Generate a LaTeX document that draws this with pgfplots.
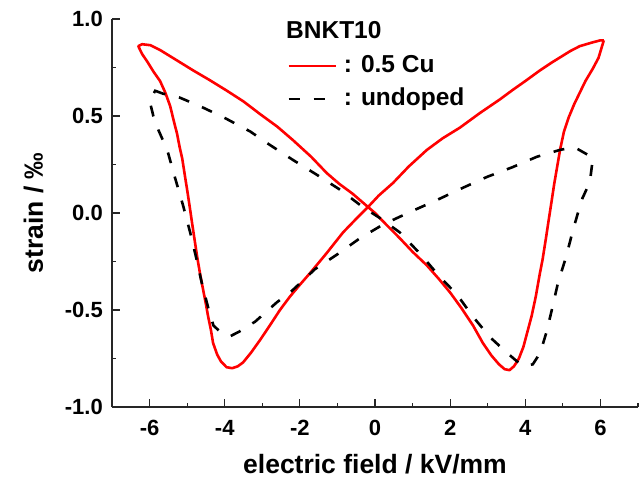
\documentclass[border=0pt]{standalone}
\usepackage{fontspec}
\setmainfont{Liberation Sans}
\usepackage{pgfplots}
\pgfplotsset{compat=1.18}

\newcommand\tickfont{\fontsize{22bp}{26bp}\selectfont\bfseries}
\newcommand\labelfont{\fontsize{26.5bp}{30bp}\selectfont\bfseries}
\newcommand\legfont{\fontsize{24.5bp}{28bp}\selectfont\bfseries}

% strain loop, 0.5 Cu doped BNKT10
\pgfplotstableread{
E S
6.09 0.89
5.95 0.80
5.80 0.745
5.60 0.68
5.45 0.62
5.30 0.56
5.15 0.49
5.03 0.42
4.93 0.33
4.85 0.24
4.77 0.15
4.70 0.06
4.62 -0.04
4.55 -0.13
4.46 -0.24
4.38 -0.32
4.28 -0.43
4.17 -0.53
4.06 -0.61
3.95 -0.69
3.83 -0.75
3.70 -0.79
3.58 -0.81
3.45 -0.805
3.30 -0.78
3.10 -0.735
2.87 -0.67
2.61 -0.58
2.30 -0.49
2.00 -0.41
1.70 -0.34
1.38 -0.27
1.00 -0.20
0.66 -0.13
0.30 -0.06
0.00 0.00
-0.30 0.05
-0.60 0.10
-0.95 0.15
-1.28 0.205
-1.70 0.29
-2.18 0.375
-2.60 0.445
-3.06 0.51
-3.50 0.575
-3.94 0.63
-4.40 0.685
-4.84 0.735
-5.30 0.79
-5.72 0.84
-5.98 0.865
-6.20 0.87
-6.30 0.86
-6.20 0.82
-6.06 0.78
-5.90 0.73
-5.72 0.68
-5.58 0.62
-5.45 0.55
-5.35 0.47
-5.27 0.41
-5.20 0.34
-5.13 0.28
-5.05 0.18
-5.00 0.12
-4.93 0.03
-4.87 -0.05
-4.80 -0.14
-4.73 -0.23
-4.65 -0.32
-4.57 -0.40
-4.50 -0.47
-4.44 -0.535
-4.37 -0.60
-4.31 -0.67
-4.20 -0.73
-4.10 -0.765
-3.95 -0.795
-3.80 -0.80
-3.65 -0.79
-3.51 -0.77
-3.30 -0.72
-3.06 -0.655
-2.80 -0.58
-2.53 -0.50
-2.26 -0.43
-2.00 -0.37
-1.73 -0.31
-1.30 -0.21
-0.85 -0.10
-0.50 -0.03
-0.19 0.03
0.10 0.09
0.48 0.155
0.90 0.24
1.38 0.325
1.80 0.385
2.26 0.44
2.79 0.515
3.32 0.585
3.67 0.635
4.00 0.68
4.39 0.735
4.70 0.775
4.95 0.805
5.20 0.835
5.45 0.86
5.80 0.88
6.00 0.89
6.09 0.89
}\culoop

% strain loop, undoped BNKT10
\pgfplotstableread{
E S
-5.64 0.615
-5.85 0.63
-6.00 0.58
-5.90 0.50
-5.80 0.443
-5.53 0.325
-5.32 0.18
-5.11 0.04
-4.92 -0.10
-4.76 -0.23
-4.60 -0.37
-4.41 -0.51
-4.30 -0.58
-4.05 -0.625
-3.85 -0.635
-3.60 -0.61
-3.19 -0.56
-2.61 -0.46
-2.26 -0.41
-1.60 -0.29
-0.98 -0.21
-0.40 -0.13
0.21 -0.06
0.93 0.005
1.65 0.067
2.34 0.13
2.98 0.186
3.67 0.237
4.31 0.29
4.92 0.325
5.30 0.34
5.80 0.285
5.72 0.16
5.50 0.067
5.27 -0.088
5.08 -0.23
4.87 -0.36
4.73 -0.48
4.57 -0.61
4.40 -0.72
4.20 -0.78
3.95 -0.79
3.78 -0.765
3.51 -0.72
3.06 -0.64
2.61 -0.535
2.18 -0.42
1.73 -0.33
1.20 -0.21
0.66 -0.10
0.13 -0.026
-0.32 0.03
-0.93 0.12
-1.54 0.196
-2.18 0.273
-2.87 0.36
-3.32 0.42
-4.00 0.49
-4.65 0.55
-5.20 0.595
-5.64 0.615
}\undoped

\begin{document}
\begin{tikzpicture}
\begin{axis}[
  at={(0,0)}, anchor=south west,
  scale only axis,
  width=526bp, height=388bp,
  xmin=-7, xmax=7, ymin=-1, ymax=1,
  axis lines*=left,
  axis line style={line width=1.2bp, black!85},
  tick align=inside,
  tick style={line width=1.2bp, black!85},
  major tick length=8bp,
  minor tick length=4bp,
  xtick={-6,-4,-2,0,2,4,6},
  xticklabels={-6,-4,-2,0,2,4,6},
  minor xtick={-7,-5,-3,-1,1,3,5,7},
  ytick={-1,-0.5,0,0.5,1},
  yticklabels={-1.0,-0.5,0.0,0.5,1.0},
  minor ytick={-0.75,-0.25,0.25,0.75},
  xticklabel style={font=\tickfont, inner sep=0pt, anchor=north, yshift=-13bp},
  yticklabel style={font=\tickfont, inner sep=0pt, anchor=east, xshift=-9bp},
  xlabel={electric field / kV/mm},
  ylabel={strain / ‰},
  every axis x label/.style={at={(axis description cs:0.5,-0.1720)}, anchor=base, font=\labelfont},
  every axis y label/.style={at={(axis description cs:-0.1312,0.5)}, anchor=base, rotate=90, font=\labelfont},
  legend image code/.code={\draw[#1] (0bp,0bp) -- (47bp,0bp);},
  legend cell align=left,
  legend style={at={(axis description cs:0.3327,0.9098)}, anchor=north west,
    draw=none, fill=none, font=\legfont, inner sep=0pt,
    row sep=9bp, column sep=7bp,
    nodes={inner sep=0pt, text height=18bp, text depth=6bp}},
]
\addplot[red, line width=2.6bp, line join=round] table[x=E, y=S] {\culoop};
\addlegendentry{: 0.5 Cu}
\addplot[black, line width=2.6bp, dash pattern=on 11bp off 14bp] table[x=E, y=S] {\undoped};
\addlegendentry{: undoped}
\node[anchor=base west, font=\legfont, inner sep=0pt] at (axis description cs:0.3308,0.951) {BNKT10};
\end{axis}
\pgfresetboundingbox
\path[use as bounding box] (-112bp,-73bp) rectangle (527bp,407bp);
\end{tikzpicture}
\end{document}
